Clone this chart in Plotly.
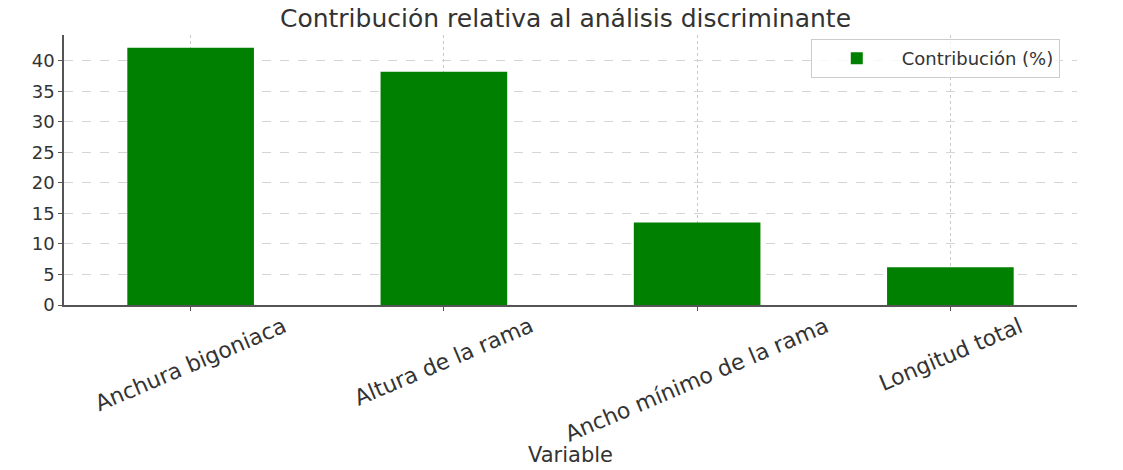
import plotly.graph_objects as go

variables = ["Anchura bigoniaca", "Altura de la rama", "Ancho mínimo de la rama", "Longitud total"]
contribucion = [42.1, 38.2, 13.5, 6.2]
series_name = "Contribución (%)"
y_ticks = [0, 5, 10, 15, 20, 25, 30, 35, 40]

W, H = 1115, 462
L, R, T, B = 56, 46, 27, 165
plot_h = H - T - B

fig = go.Figure()
fig.add_trace(go.Bar(
    x=list(range(len(variables))), y=contribucion, name=series_name,
    marker=dict(color="#008000", line=dict(width=0)), width=0.5, showlegend=True,
))

font_family = "DejaVu Sans"
text_color = "#333333"

# category labels, centred under each tick like the reference
annotations = []
for i, lab in enumerate(variables):
    annotations.append(dict(
        text=lab, x=i, xref="x", y=-5 / plot_h, yref="paper",
        xanchor="center", yanchor="top", textangle=-23, showarrow=False,
        font=dict(family=font_family, size=22, color=text_color),
    ))
annotations.append(dict(text="Variable", xref="paper", yref="paper", x=0.5, y=-(B - 1) / plot_h,
                        xanchor="center", yanchor="bottom", showarrow=False,
                        font=dict(family=font_family, size=21, color=text_color)))

fig.update_layout(
    width=W, height=H,
    paper_bgcolor="white", plot_bgcolor="white",
    margin=dict(l=L, r=R, t=T, b=B),
    title=dict(text="Contribución relativa al análisis discriminante", x=0.5, xanchor="center",
               y=1 - 1 / H, yanchor="top", pad=dict(t=0, b=0),
               font=dict(family=font_family, size=25, color=text_color)),
    font=dict(family=font_family, color=text_color),
    showlegend=True,
    legend=dict(x=0.983, y=0.985, xanchor="right", yanchor="top", bgcolor="rgba(255,255,255,0.8)",
                bordercolor="#cccccc", borderwidth=1, font=dict(size=18, color=text_color),
                itemwidth=80, tracegroupgap=0),
    xaxis=dict(
        range=[-0.5, 3.5], tickmode="array", tickvals=list(range(len(variables))),
        showticklabels=False, automargin=False,
        showgrid=True, gridcolor="#c8c8c8", griddash="dot", gridwidth=1,
        showline=True, linecolor="#555555", linewidth=1.5, ticks="outside", ticklen=4, tickcolor="#555555",
        zeroline=False,
    ),
    yaxis=dict(
        range=[0, 44.2], tickvals=y_ticks, tickfont=dict(size=18, color=text_color), automargin=False,
        showgrid=True, gridcolor="#d5d5d5", griddash="dash", gridwidth=1,
        showline=True, linecolor="#555555", linewidth=1.5, ticks="outside", ticklen=4, tickcolor="#555555",
        zeroline=False,
    ),
    annotations=annotations,
)

fig.write_html("out.html")
